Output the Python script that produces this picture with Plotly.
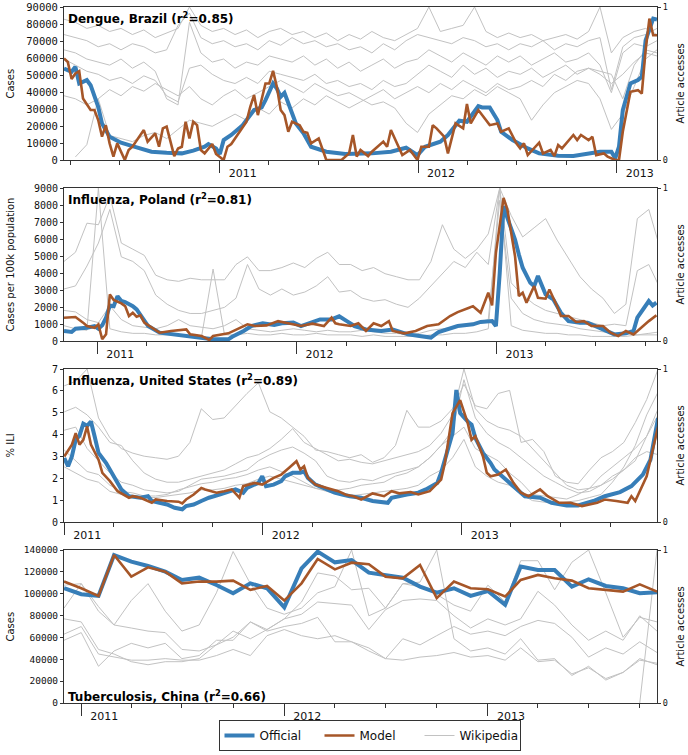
import numpy as np
import pandas as pd
import plotly.graph_objects as go

# ======================= DATA =======================
# ---- Dengue, Brazil (weekly, week index counted from DEN_START) ----
DEN_START = "2010-03-20"
DEN_OFFICIAL_WEEK = [0,2,3,4,6,7,9,10,12,15,18,23,27,31,34,37,38,40,41,42,44,47,50,52,53,55,56,57,58,59,
                     61,63,65,69,74,81,86,90,93,95,99,101,104,106,109,110,112,114,115,118,122,125,130,134,
                     138,141,144,145,146,147,149,151,152,153,155,156]
DEN_OFFICIAL = [53800,51900,54800,45000,47000,44000,31300,21500,13700,10200,8200,4900,4300,3900,5500,7800,
                9400,6800,3500,11700,14700,20500,29400,30900,35200,45000,42000,37200,39500,33300,21500,15700,
                7800,4900,3500,3900,4900,7200,2900,7800,10800,14700,23100,22500,31700,30900,30900,23500,16600,
                11700,6800,3900,2500,2300,3500,4900,4900,1000,7800,29400,45000,47000,48900,70400,83200,82600]
DEN_MODEL_WEEK = [0,1,2,3,4,5,7,8,9,10,11,12,13,14,16,17,18,21,22,24,25,26,27,29,30,31,32,33,34,35,36,37,39,
                  40,42,43,44,46,48,49,50,51,53,54,55,56,57,58,59,60,62,63,64,65,67,69,73,75,76,77,78,80,81,
                  84,85,86,88,89,91,93,94,96,97,98,100,101,103,105,106,107,109,110,112,114,115,117,119,120,
                  121,122,125,126,128,129,130,131,134,135,136,138,139,140,142,143,145,146,147,149,151,152,
                  153,154,155,156]
DEN_MODEL = [59700,57700,47600,50900,52300,36200,29400,29400,23500,13700,20500,9800,2000,9800,0,5900,7800,
             17600,10800,15700,7800,18600,19600,2300,6800,7800,22500,12700,22500,20500,5900,3900,9400,3500,0,
             7800,9400,15700,22500,31300,38200,26400,45000,45000,52400,43000,29400,26400,16600,22500,20500,
             16600,16000,9800,12700,0,0,3900,14700,2000,5900,2300,4900,10800,7800,17600,7800,2900,5900,0,7800,
             7800,20500,18600,13700,3900,21500,18600,32900,21500,29400,26400,20500,21500,16600,18600,9800,
             6800,9800,2900,10200,3900,5900,2300,8800,6800,14700,11700,14700,11700,13700,2900,3900,2000,0,0,
             16600,40100,41100,39100,64600,83200,73400,73400]
# Wikipedia article accesses (normalised 0-1), one value every 3 weeks from DEN_START
DEN_WIKI_1 = [0.92,0.90,0.86,0.88,0.84,0.86,0.82,0.85,0.80,0.83,0.86,1.00,0.88,0.84,0.86,0.82,0.85,0.80,0.84,
              0.86,0.82,0.84,0.80,0.83,0.78,0.82,0.79,0.84,0.80,0.78,0.82,0.86,1.00,0.84,0.86,0.88,1.00,0.84,
              0.80,0.83,0.80,0.82,0.78,0.80,0.82,0.79,0.84,1.00,0.70,0.80,0.84,0.86,0.82]
DEN_WIKI_2 = [0.82,0.80,0.78,0.74,0.76,0.72,0.76,0.74,0.70,0.72,0.88,0.96,0.80,0.76,0.78,0.74,0.76,0.72,0.78,
              0.75,0.80,0.76,0.78,0.74,0.76,0.72,0.74,0.70,0.76,0.72,0.78,0.82,0.80,0.78,0.76,0.80,0.78,0.74,
              0.76,0.72,0.76,0.74,0.78,0.72,0.76,0.74,0.78,0.80,0.46,0.74,0.80,0.82,0.86]
DEN_WIKI_3 = [0.72,0.70,0.66,0.64,0.62,0.66,0.60,0.64,0.58,0.40,0.36,0.90,0.70,0.64,0.66,0.60,0.64,0.62,0.68,
              0.66,0.64,0.68,0.62,0.66,0.60,0.64,0.58,0.62,0.66,0.60,0.64,0.66,0.72,0.68,0.64,0.70,0.66,0.62,
              0.68,0.64,0.68,0.62,0.66,0.70,0.64,0.66,0.70,0.62,0.44,0.70,0.76,0.74,0.78]
DEN_WIKI_4 = [0.66,0.62,0.58,0.56,0.52,0.54,0.50,0.55,0.52,0.42,0.38,0.60,0.62,0.56,0.52,0.50,0.54,0.50,0.58,
              0.56,0.54,0.52,0.56,0.50,0.52,0.48,0.50,0.46,0.52,0.48,0.50,0.56,0.62,0.58,0.54,0.62,0.56,0.60,
              0.54,0.58,0.56,0.60,0.54,0.58,0.62,0.56,0.60,0.58,0.56,0.40,0.62,0.72,0.70]
DEN_WIKI_5 = [0.42,0.40,0.36,0.40,0.46,0.42,0.48,0.45,0.50,0.46,0.42,0.48,0.40,0.36,0.42,0.46,0.40,0.44,0.48,
              0.52,0.48,0.44,0.50,0.46,0.42,0.44,0.40,0.36,0.38,0.34,0.24,0.18,0.30,0.36,0.42,0.40,0.46,0.42,
              0.48,0.44,0.40,0.26,0.36,0.44,0.48,0.52,0.50,0.40,0.20,0.30,0.48,0.66,0.72]
DEN_WIKI_6 = [None,0.02,0.10,0.40,0.16,0.14,0.12,0.16,0.18,0.14,0.20,0.26,0.24,0.22,0.26,0.30,0.26,0.34,0.30,
              0.38,0.34,0.40,0.36,0.42,0.38,0.34,0.38,0.42,0.46,0.40,0.44,0.48,0.44,0.50,0.46,0.52,0.48,0.44,
              0.50,0.46,0.48,0.52,0.48,0.56,0.52,0.58,0.60,0.56,0.50,0.56,0.64,0.70,0.68]

# ---- Influenza, Poland (weekly from POL_START) ----
POL_START = "2010-11-01"
POL_OFFICIAL_WEEK = [0,2,3,6,8,9,10,11,12,13,14,15,16,18,19,21,22,25,29,32,36,39,43,44,47,49,52,55,57,60,
                     62,64,67,70,72,74,76,79,83,86,90,93,96,98,102,103,107,109,112,113,114,115,116,118,119,
                     120,122,123,124,126,128,130,132,135,137,139,142,144,147,149,150,153,154,155]
POL_OFFICIAL = [590,530,720,780,880,720,920,1370,2090,2050,2640,2350,2290,2050,1860,1270,880,490,390,290,
                200,100,100,250,590,880,1040,940,1040,1080,880,1040,1270,1270,1450,1170,880,680,590,680,390,
                290,200,530,780,880,980,1120,1170,880,4010,7930,7240,5970,5090,4310,3420,3230,3820,2740,2450,
                1660,1170,1080,1080,880,590,390,450,590,1370,2350,2090,2250]
POL_MODEL_WEEK = [0,3,5,6,8,9,10,11,12,13,15,16,17,18,19,20,21,23,25,28,32,33,36,38,39,43,45,48,50,53,56,58,
                  62,65,68,70,71,72,75,77,79,81,83,85,86,89,92,95,98,101,103,106,107,109,111,112,113,115,
                  116,118,119,120,121,123,124,126,127,129,130,132,134,136,138,141,143,145,147,149,150,153,155]
POL_MODEL = [1370,1410,1080,880,780,980,100,390,2740,2410,2210,2050,1470,1660,1430,1510,1080,780,490,590,680,
             390,290,60,290,450,680,980,880,920,1170,1080,880,1020,880,1370,1040,980,880,1040,590,1040,880,
             1170,590,450,590,880,980,1470,1700,1960,2050,1660,2840,2090,5190,8410,7730,4990,2640,2840,2250,
             3230,2540,2490,3030,2050,1470,1470,1120,1170,880,880,490,290,590,390,590,1170,1510]
POL_WIKI_1 = [0.52,0.58,0.77,0.76,0.95,0.64,0.60,0.56,0.43,0.40,0.39,0.41,0.40,0.40,0.40,0.50,0.55,0.46,0.46,
              0.48,0.51,0.48,0.54,0.58,0.50,0.50,0.46,0.48,0.44,0.42,0.40,0.40,0.52,0.76,0.60,0.54,0.60,0.70,
              1.00,0.82,0.68,0.74,0.80,0.66,0.54,0.42,0.34,0.28,0.18,0.24,0.80,0.86,0.60]
POL_WIKI_2 = [0.34,0.36,0.49,0.64,0.86,0.55,0.52,0.46,0.30,0.24,0.20,0.18,0.18,0.20,0.22,0.28,0.50,0.34,0.30,
              0.34,0.30,0.32,0.36,0.42,0.32,0.33,0.28,0.26,0.27,0.24,0.22,0.28,0.36,0.44,0.52,0.48,0.58,0.50,
              1.00,0.38,0.30,0.24,0.20,0.18,0.16,0.14,0.12,0.10,0.11,0.10,0.46,0.50,0.34]
POL_WIKI_3 = [0.20,0.19,0.14,0.12,0.23,0.14,0.10,0.09,0.08,0.10,0.14,0.10,0.09,0.08,0.10,0.14,0.08,0.07,0.06,
              0.07,0.08,0.07,0.06,0.07,0.06,0.06,0.07,0.06,0.05,0.05,0.04,0.05,0.07,0.08,0.09,0.10,0.12,0.14,
              0.92,0.28,0.18,0.14,0.12,0.11,0.10,0.08,0.07,0.06,0.05,0.05,0.04,0.05,0.06]
POL_WIKI_4 = [0.10,0.08,0.07,1.00,0.08,0.06,0.05,0.05,0.04,0.04,0.04,0.03,0.03,0.47,0.04,0.04,0.05,0.04,0.04,
              0.05,0.04,0.04,0.05,0.04,0.04,0.04,0.03,0.04,0.03,0.03,0.03,0.03,0.04,0.04,0.05,0.05,0.06,0.08,
              1.00,0.10,0.07,0.06,0.05,0.05,0.04,0.04,0.03,0.03,0.03,0.03,0.04,0.04,0.04]

# ---- Influenza, United States (weekly from USA_START) ----
USA_START = "2011-01-01"
USA_OFFICIAL_WEEK = [0,1,2,3,4,5,6,7,8,9,11,13,15,17,20,22,23,25,27,29,31,32,34,36,38,41,44,45,47,48,51,52,53,
                     55,57,58,60,62,63,64,66,69,71,73,75,78,81,85,86,90,93,95,98,99,100,102,103,104,106,107,
                     108,110,112,113,116,119,121,125,128,132,135,139,142,146,149,152,154,156]
USA_OFFICIAL = [2.93,2.55,3.0,3.76,3.95,4.5,4.4,4.6,3.9,3.16,2.7,2.09,1.49,1.18,1.11,1.18,0.96,0.88,0.8,0.65,
                0.58,0.73,0.8,0.96,1.11,1.26,1.41,1.49,1.34,1.56,1.79,2.09,1.64,1.71,1.87,2.09,2.25,2.25,2.32,
                2.02,1.71,1.49,1.34,1.26,1.18,1.11,0.96,0.88,1.11,1.26,1.34,1.49,1.79,2.25,2.85,4.07,6.04,4.98,
                4.6,4.45,3.84,3.16,2.7,2.4,1.94,1.49,1.18,1.11,0.88,0.76,0.76,0.96,1.18,1.37,1.64,2.17,2.85,4.75]
USA_MODEL_WEEK = [0,2,3,4,5,6,7,9,10,12,14,17,18,20,23,24,27,30,31,32,34,36,37,40,42,44,46,47,50,52,55,57,59,
                  61,62,63,64,66,69,72,74,76,78,81,84,86,88,91,93,96,99,100,102,104,106,107,108,110,111,112,
                  114,116,118,120,122,125,127,130,133,136,140,142,145,148,149,150,153,156]
USA_MODEL = [3.0,3.54,4.07,3.54,3.76,4.37,3.54,2.85,2.25,1.87,1.41,1.11,1.18,1.11,0.88,1.03,0.96,0.93,0.85,1.03,
             1.26,1.56,1.49,1.34,1.41,1.49,1.11,1.64,1.79,1.71,2.02,2.17,2.47,2.78,2.4,2.55,2.02,1.71,1.56,1.41,
             1.25,1.18,1.03,1.31,1.18,1.41,1.31,1.37,1.26,1.41,1.94,2.7,4.98,5.58,4.52,3.76,3.92,3.0,2.25,2.09,
             2.17,2.4,1.79,1.34,1.18,1.49,1.18,0.88,0.88,0.73,0.88,1.03,0.96,0.88,1.18,0.96,2.09,4.37]
USA_WIKI_1 = [0.89,0.92,1.00,0.68,0.55,0.48,0.45,0.43,0.42,0.41,0.43,0.52,0.74,0.67,0.68,0.76,0.84,0.91,0.72,
              0.68,0.62,0.56,0.47,0.46,0.44,0.42,0.44,0.39,0.42,0.50,0.73,0.62,0.62,0.66,0.74,0.90,0.76,0.74,
              0.84,0.86,0.52,0.54,0.46,0.30,0.26,0.25,0.34,0.42,0.46,0.52,0.65,0.80,1.00]
USA_WIKI_2 = [0.72,0.75,0.70,0.62,0.52,0.50,0.40,0.32,0.28,0.26,0.26,0.28,0.30,0.32,0.34,0.38,0.42,0.44,0.48,
              0.54,0.61,0.52,0.48,0.44,0.40,0.41,0.39,0.38,0.40,0.42,0.44,0.46,0.50,0.58,0.70,1.00,0.74,0.66,
              0.62,0.60,0.56,0.48,0.40,0.32,0.24,0.21,0.22,0.30,0.36,0.42,0.48,0.56,0.70]
USA_WIKI_3 = [0.60,0.62,0.48,0.40,0.32,0.26,0.24,0.21,0.20,0.19,0.20,0.24,0.28,0.29,0.30,0.32,0.34,0.40,0.44,
              0.47,0.49,0.45,0.40,0.30,0.27,0.26,0.28,0.27,0.30,0.32,0.34,0.36,0.42,0.50,0.60,0.93,0.68,0.58,
              0.52,0.48,0.42,0.36,0.30,0.26,0.22,0.19,0.20,0.24,0.28,0.34,0.42,0.46,0.44]
USA_WIKI_4 = [0.47,0.40,0.33,0.31,0.24,0.20,0.19,0.17,0.17,0.18,0.21,0.23,0.25,0.26,0.28,0.29,0.31,0.34,0.36,
              0.33,0.30,0.26,0.22,0.21,0.21,0.22,0.24,0.25,0.26,0.30,0.32,0.36,0.42,0.50,0.56,0.62,0.48,0.44,
              0.40,0.32,0.26,0.18,0.17,0.16,0.15,0.18,0.22,0.24,0.30,0.34,0.40,0.56,0.74]
USA_WIKI_5 = [0.36,0.32,0.28,0.26,0.20,0.18,0.17,0.16,0.16,0.17,0.18,0.19,0.21,0.21,0.22,0.24,0.25,0.28,0.30,
              0.28,0.26,0.24,0.22,0.20,0.18,0.17,0.18,0.19,0.20,0.21,0.22,0.24,0.30,0.34,0.42,0.54,0.36,0.30,
              0.26,0.24,0.18,0.14,0.13,0.12,0.13,0.14,0.16,0.18,0.26,0.36,0.50,0.70,0.85]

# ---- Tuberculosis, China (monthly from CHN_START) ----
CHN_START = "2010-12-01"
CHN_OFFICIAL = [105000,99500,98000,135400,129300,125400,120200,112600,114700,108000,100400,109500,105000,
                87600,123200,138500,128700,130800,119300,117200,114700,106500,101000,105000,98000,102500,
                89800,124800,121700,121700,106500,113200,107100,105000,100400,101300]
CHN_MODEL = [111100,105000,98000,135400,115600,124200,120200,109500,111100,111100,112000,103500,107100,93700,
             109500,131800,122300,128400,126900,115600,114100,126300,95900,111100,105000,104100,97400,112600,
             117200,114100,112000,105000,103500,101900,108600,101900]
CHN_WIKI_1 = [0.62,0.78,0.60,0.51,0.67,0.78,0.60,0.47,0.51,0.72,0.99,0.78,0.62,0.58,0.62,0.72,0.76,1.00,0.57,
              0.62,0.78,0.79,1.00,0.42,0.34,0.36,0.32,0.42,0.28,0.29,0.18,0.24,0.15,0.20,0.29,0.25]
CHN_WIKI_2 = [0.77,0.78,0.63,0.51,0.49,0.47,0.46,0.35,0.34,0.38,0.43,0.53,0.48,0.55,0.66,0.85,0.83,0.74,0.75,
              0.62,0.78,0.76,0.71,0.64,0.60,0.77,0.66,0.93,0.93,0.74,0.92,1.00,0.72,0.43,0.56,0.53]
CHN_WIKI_3 = [0.55,0.53,0.35,0.32,0.27,0.25,0.27,0.27,0.29,0.38,0.47,0.42,0.48,0.55,0.58,0.66,0.65,0.64,0.48,
              0.61,0.67,0.68,0.67,0.57,0.49,0.55,0.51,0.55,0.73,0.64,0.51,0.41,0.47,0.41,0.57,0.47]
CHN_WIKI_4 = [0.41,0.46,0.24,0.34,0.39,0.36,0.39,0.29,0.31,0.41,0.41,0.53,0.47,0.50,0.52,0.56,0.40,0.40,0.36,
              0.29,0.42,0.38,0.44,0.50,0.45,0.47,0.44,0.50,0.54,0.52,0.43,0.30,0.36,0.32,0.40,0.33]
CHN_WIKI_5 = [0.45,0.50,0.32,0.30,0.28,0.28,0.29,0.28,0.28,0.31,0.35,0.31,0.44,0.48,0.44,0.42,0.44,0.40,0.34,
              0.29,0.28,0.30,0.31,0.33,0.30,0.31,0.28,0.36,0.27,0.28,0.19,0.23,0.16,0.20,0.28,0.26]
CHN_WIKI_6 = [None]*34 + [0.0, 1.0]

WIKI_STEP_WEEKS = 3

# ======================= HELPERS =======================
def weekly(start, weeks):
    return pd.Timestamp(start) + pd.to_timedelta(np.asarray(weeks, dtype=float) * 7, unit="D")


def monthly(start, n):
    return pd.date_range(start, periods=n, freq="MS")


def wiki_grid(start, n):
    return weekly(start, np.arange(n) * WIKI_STEP_WEEKS)


panels = [
    dict(title="Dengue, Brazil", r2="0.85", ylabel="Cases", ymax=90000, dtick=10000, tfs=10.5,
         xr=["2010-03-20", "2013-03-16"],
         off=(weekly(DEN_START, DEN_OFFICIAL_WEEK), DEN_OFFICIAL),
         mod=(weekly(DEN_START, DEN_MODEL_WEEK), DEN_MODEL),
         wiki=[DEN_WIKI_1, DEN_WIKI_2, DEN_WIKI_3, DEN_WIKI_4, DEN_WIKI_5, DEN_WIKI_6],
         wx=lambda n: wiki_grid(DEN_START, n), ttop=True),
    dict(title="Influenza, Poland", r2="0.81", ylabel="Cases per 100k population", ymax=9000, dtick=1000,
         tfs=10, xr=["2010-11-01", "2013-10-22"],
         off=(weekly(POL_START, POL_OFFICIAL_WEEK), POL_OFFICIAL),
         mod=(weekly(POL_START, POL_MODEL_WEEK), POL_MODEL),
         wiki=[POL_WIKI_1, POL_WIKI_2, POL_WIKI_3, POL_WIKI_4],
         wx=lambda n: wiki_grid(POL_START, n), ttop=True),
    dict(title="Influenza, United States", r2="0.89", ylabel="% ILI", ymax=7, dtick=1, tfs=10,
         xr=["2010-12-31 12:00", "2013-12-26"],
         off=(weekly(USA_START, USA_OFFICIAL_WEEK), USA_OFFICIAL),
         mod=(weekly(USA_START, USA_MODEL_WEEK), USA_MODEL),
         wiki=[USA_WIKI_1, USA_WIKI_2, USA_WIKI_3, USA_WIKI_4, USA_WIKI_5],
         wx=lambda n: wiki_grid(USA_START, n), ttop=True),
    dict(title="Tuberculosis, China", r2="0.66", ylabel="Cases", ymax=140000, dtick=20000, tfs=9.5,
         xr=["2010-12-01", "2013-11-01"],
         off=(monthly(CHN_START, len(CHN_OFFICIAL)), CHN_OFFICIAL),
         mod=(monthly(CHN_START, len(CHN_MODEL)), CHN_MODEL),
         wiki=[CHN_WIKI_1, CHN_WIKI_2, CHN_WIKI_3, CHN_WIKI_4, CHN_WIKI_5, CHN_WIKI_6],
         wx=lambda n: monthly(CHN_START, n), ttop=False),
]

# ======================= FIGURE =======================
W, H = 688, 755
ML, MR, MT, MB = 64, 31, 7, 52
PW, PH = W - ML - MR, H - MT - MB
PANEL_PX = [(7, 160), (188, 341), (369, 522), (550, 703)]


def py(pix):
    return (H - MB - pix) / PH


def px(pix):
    return (pix - ML) / PW


BLUE, BROWN, GREY, FRAME = "#377eb8", "#a65628", "#c2c2c2", "#333333"
fig = go.Figure()
layout = {}
annotations = []

for i, p in enumerate(panels, start=1):
    top, bot = PANEL_PX[i - 1]
    dom = [max(0.0, py(bot)), min(1.0, py(top))]
    first = i == 1
    for j, w in enumerate(p["wiki"]):
        fig.add_trace(go.Scatter(x=p["wx"](len(w)), y=w, mode="lines", xaxis=f"x{i}", yaxis=f"y{i}",
                                 line=dict(color=GREY, width=1), name="Wikipedia",
                                 showlegend=first and j == 0, legendrank=3, hoverinfo="skip"))
    fig.add_trace(go.Scatter(x=p["off"][0], y=p["off"][1], mode="lines", xaxis=f"x{i}", yaxis=f"y{i+4}",
                             line=dict(color=BLUE, width=4), name="Official", showlegend=first, legendrank=1))
    fig.add_trace(go.Scatter(x=p["mod"][0], y=p["mod"][1], mode="lines", xaxis=f"x{i}", yaxis=f"y{i+4}",
                             line=dict(color=BROWN, width=2.6), name="Model", showlegend=first, legendrank=2))

    layout[f"xaxis{i}"] = dict(
        domain=[0, 1], anchor=f"y{i}", type="date", range=p["xr"], showline=True, mirror=True,
        linecolor=FRAME, linewidth=1, ticks="outside", ticklen=12, tickwidth=1, tickcolor=FRAME,
        dtick="M12", tick0="2011-01-01", tickformat="%Y", showgrid=False, zeroline=False,
        tickfont=dict(family="DejaVu Sans", size=11, color="#111"),
        ticklabelshift=23, ticklabelstandoff=-9, automargin=False,
        minor=dict(ticks="outside", ticklen=4, dtick="M3", tick0="2011-01-01", tickcolor=FRAME,
                   tickwidth=1, showgrid=False))
    layout[f"yaxis{i}"] = dict(
        domain=dom, anchor=f"x{i}", side="right", range=[0, 1], tickvals=[0, 1], ticktext=["0", "1"],
        ticks="outside", ticklen=3, tickcolor=FRAME, showline=True, mirror=True, linecolor=FRAME,
        linewidth=1, showgrid=False, zeroline=False, automargin=False,
        tickfont=dict(family="DejaVu Sans Mono", size=8.5, color="#111"))
    layout[f"yaxis{i+4}"] = dict(
        overlaying=f"y{i}", anchor=f"x{i}", side="left", range=[0, p["ymax"]], tick0=0, dtick=p["dtick"],
        tickformat="d", ticks="outside", ticklen=3, tickcolor=FRAME, showline=False, showgrid=False,
        zeroline=False, automargin=False,
        tickfont=dict(family="DejaVu Sans Mono", size=p["tfs"], color="#111"))

    ymid = (dom[0] + dom[1]) / 2
    annotations.append(dict(text=p["ylabel"], xref="paper", yref="paper", x=px(10), y=ymid,
                            textangle=-90, showarrow=False, xanchor="center", yanchor="middle",
                            font=dict(family="DejaVu Sans", size=10, color="#111")))
    annotations.append(dict(text="Article accesses", xref="paper", yref="paper", x=px(680), y=ymid,
                            textangle=-90, showarrow=False, xanchor="center", yanchor="middle",
                            font=dict(family="DejaVu Sans", size=10, color="#111")))
    ttext = f"<b>{p['title']} (r<sup>2</sup>={p['r2']})</b>"
    if p["ttop"]:
        annotations.append(dict(text=ttext, xref="paper", yref="paper", x=px(66), y=py(top + 1),
                                xanchor="left", yanchor="top", showarrow=False,
                                font=dict(family="DejaVu Sans", size=12, color="#000")))
    else:
        annotations.append(dict(text=ttext, xref="paper", yref="paper", x=px(66), y=py(bot + 3),
                                xanchor="left", yanchor="bottom", showarrow=False,
                                font=dict(family="DejaVu Sans", size=12, color="#000")))

fig.update_layout(
    width=W, height=H, margin=dict(l=ML, r=MR, t=MT, b=MB, autoexpand=False),
    paper_bgcolor="white", plot_bgcolor="white",
    font=dict(family="DejaVu Sans", color="#111"),
    annotations=annotations,
    showlegend=True,
    legend=dict(orientation="h", x=px(369.5), xanchor="center", y=py(720), yanchor="top",
                bgcolor="white", bordercolor=FRAME, borderwidth=1, entrywidth=55, entrywidthmode="pixels",
                font=dict(family="DejaVu Sans", size=12, color="#111"), traceorder="normal"),
    **layout,
)

fig.write_html("out.html", config={"displayModeBar": False},
               post_script="document.body.style.margin='0px';")
